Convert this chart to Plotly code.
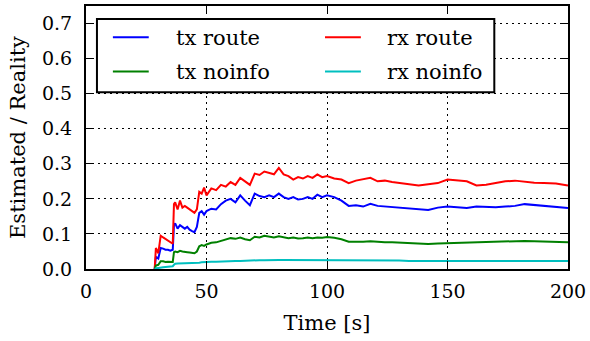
import plotly.graph_objects as go

time_s = [28.5, 29, 30, 31, 32, 33, 34, 35, 36,
          36.5, 37, 38, 39, 40, 41, 42, 43, 44, 45, 46, 47, 48, 49, 50,
          52, 54, 56, 58, 60, 62, 64, 66, 68, 70,
          72, 74, 76, 78, 80, 82, 84, 86, 88, 90,
          92, 94, 96, 98, 100,
          103, 106, 109, 112, 115, 118, 121, 124, 127, 130,
          134, 138, 142, 146, 150, 154, 158, 162, 166, 170,
          174, 178, 182, 186, 190, 195, 200]

rx_route = [0.0, 0.06, 0.045, 0.095, 0.09, 0.085, 0.08, 0.075, 0.072,
            0.185, 0.19, 0.17, 0.195, 0.175, 0.18, 0.175, 0.17, 0.165, 0.16, 0.17, 0.22, 0.215, 0.232, 0.21,
            0.23, 0.225, 0.24, 0.235, 0.248, 0.24, 0.26, 0.25, 0.24, 0.272,
            0.268, 0.278, 0.275, 0.27, 0.288, 0.27, 0.265, 0.255, 0.262, 0.258,
            0.265, 0.26, 0.27, 0.262, 0.265,
            0.258, 0.255, 0.245, 0.252, 0.255, 0.26, 0.25, 0.252, 0.248, 0.245,
            0.24, 0.238, 0.242, 0.245, 0.255, 0.252, 0.25, 0.238, 0.24, 0.245,
            0.25, 0.252, 0.248, 0.246, 0.245, 0.244, 0.238]

tx_route = [0.0, 0.035, 0.03, 0.06, 0.058, 0.055, 0.055, 0.052, 0.055,
            0.125, 0.13, 0.115, 0.125, 0.12, 0.115, 0.12, 0.112, 0.108, 0.105, 0.12, 0.16, 0.165, 0.155, 0.165,
            0.172, 0.17, 0.185, 0.195, 0.2, 0.19, 0.21, 0.195, 0.182, 0.215,
            0.208, 0.205, 0.21, 0.205, 0.215, 0.205, 0.2, 0.205, 0.198, 0.2,
            0.205, 0.2, 0.212, 0.205, 0.21,
            0.205, 0.195, 0.18, 0.182, 0.178, 0.186, 0.18, 0.178, 0.176, 0.174,
            0.172, 0.17, 0.168, 0.175, 0.178, 0.176, 0.174, 0.178, 0.177, 0.176,
            0.178, 0.18, 0.185, 0.183, 0.18, 0.178, 0.174]

tx_noinfo = [0.0, 0.01, 0.012, 0.022, 0.022, 0.02, 0.021, 0.02, 0.02,
             0.048, 0.05, 0.048, 0.052, 0.05, 0.05, 0.048, 0.047, 0.046, 0.045, 0.05, 0.065, 0.068, 0.066, 0.07,
             0.075, 0.076, 0.08, 0.083, 0.088, 0.086, 0.09, 0.085, 0.082, 0.092,
             0.09, 0.095, 0.092, 0.09, 0.093, 0.09, 0.088, 0.09, 0.087, 0.088,
             0.09, 0.088, 0.09, 0.089, 0.091,
             0.089, 0.085, 0.078, 0.077, 0.078, 0.079, 0.077, 0.076, 0.076, 0.075,
             0.074, 0.072, 0.071, 0.073, 0.074, 0.075, 0.075, 0.075, 0.076, 0.077,
             0.078, 0.079, 0.08, 0.079, 0.078, 0.077, 0.076]

rx_noinfo = [0.0, 0.002, 0.003, 0.005, 0.005, 0.006, 0.006, 0.007, 0.008,
             0.012, 0.015, 0.016, 0.016, 0.017, 0.017, 0.017, 0.017, 0.018, 0.018, 0.018, 0.018, 0.019, 0.02, 0.02,
             0.021, 0.021, 0.022, 0.022, 0.023, 0.023, 0.023, 0.024, 0.024, 0.024,
             0.025, 0.025, 0.026, 0.026, 0.026, 0.026, 0.026, 0.026, 0.025, 0.025,
             0.025, 0.026, 0.026, 0.025, 0.025,
             0.025, 0.025, 0.024, 0.024, 0.024, 0.024, 0.024, 0.024, 0.024, 0.024,
             0.023, 0.023, 0.023, 0.023, 0.023, 0.023, 0.023, 0.023, 0.023, 0.023,
             0.023, 0.023, 0.023, 0.023, 0.023, 0.023, 0.023]

x_ticks = [0, 50, 100, 150, 200]
y_ticks = [0.0, 0.1, 0.2, 0.3, 0.4, 0.5, 0.6, 0.7]

# name, values, colour, legend column, legend row
series = [
    ("tx route", tx_route, "#0000ff", 0, 0),
    ("rx route", rx_route, "#ff0000", 1, 0),
    ("tx noinfo", tx_noinfo, "#008000", 0, 1),
    ("rx noinfo", rx_noinfo, "#00bfbf", 1, 1),
]

FONT = "DejaVu Serif"
W, H = 590, 341
L, R, T, B = 86, 20, 4, 72
PW, PH = W - L - R, H - T - B


def px_x(p):
    return (p - L) / PW


def px_y(p):
    return (H - B - p) / PH


fig = go.Figure()
for name, vals, color, col, row in series:
    assert len(vals) == len(time_s), name
    fig.add_trace(go.Scatter(x=time_s, y=vals, mode="lines", name=name,
                             showlegend=False, line=dict(color=color, width=2)))

# legend box (drawn by hand to reproduce the two-column matplotlib legend)
fig.add_shape(type="rect", xref="paper", yref="paper",
              x0=px_x(97), x1=px_x(496), y0=px_y(91), y1=px_y(17),
              line=dict(color="black", width=2), fillcolor="white", layer="above")
col_line_x = [113, 326]
col_text_x = [174, 386]
row_y = [35.5, 70]
for name, vals, color, col, row in series:
    fig.add_shape(type="line", xref="paper", yref="paper",
                  x0=px_x(col_line_x[col]), x1=px_x(col_line_x[col] + 36),
                  y0=px_y(row_y[row]), y1=px_y(row_y[row]),
                  line=dict(color=color, width=2), layer="above")
    fig.add_annotation(text=name, xref="paper", yref="paper",
                       x=px_x(col_text_x[col]), y=px_y(row_y[row] + 1),
                       xanchor="left", yanchor="middle", showarrow=False,
                       font=dict(family=FONT, size=21, color="black"))

axis_common = dict(showline=True, linecolor="black", linewidth=2, mirror="ticks",
                   ticks="inside", ticklen=8, tickwidth=1, tickcolor="black",
                   showgrid=True, gridcolor="black", gridwidth=1, griddash="2px,4px",
                   zeroline=False, tickfont=dict(family=FONT, size=19, color="black"))

fig.update_layout(
    width=W, height=H,
    margin=dict(l=L, r=R, t=T, b=B),
    paper_bgcolor="white", plot_bgcolor="white",
    font=dict(family=FONT, size=21, color="black"),
    showlegend=False,
    xaxis=dict(range=[0, 200], tickvals=x_ticks, ticktext=[str(v) for v in x_ticks],
               title=dict(text="Time [s]", font=dict(family=FONT, size=21), standoff=15),
               ticklabelstandoff=4,
               **axis_common),
    yaxis=dict(range=[0, 0.75], tickvals=y_ticks, ticktext=[f"{v:.1f}" for v in y_ticks],
               title=dict(text="Estimated / Reality", font=dict(family=FONT, size=21), standoff=11),
               ticklabelstandoff=8,
               **axis_common),
)

fig.write_html("out.html")
